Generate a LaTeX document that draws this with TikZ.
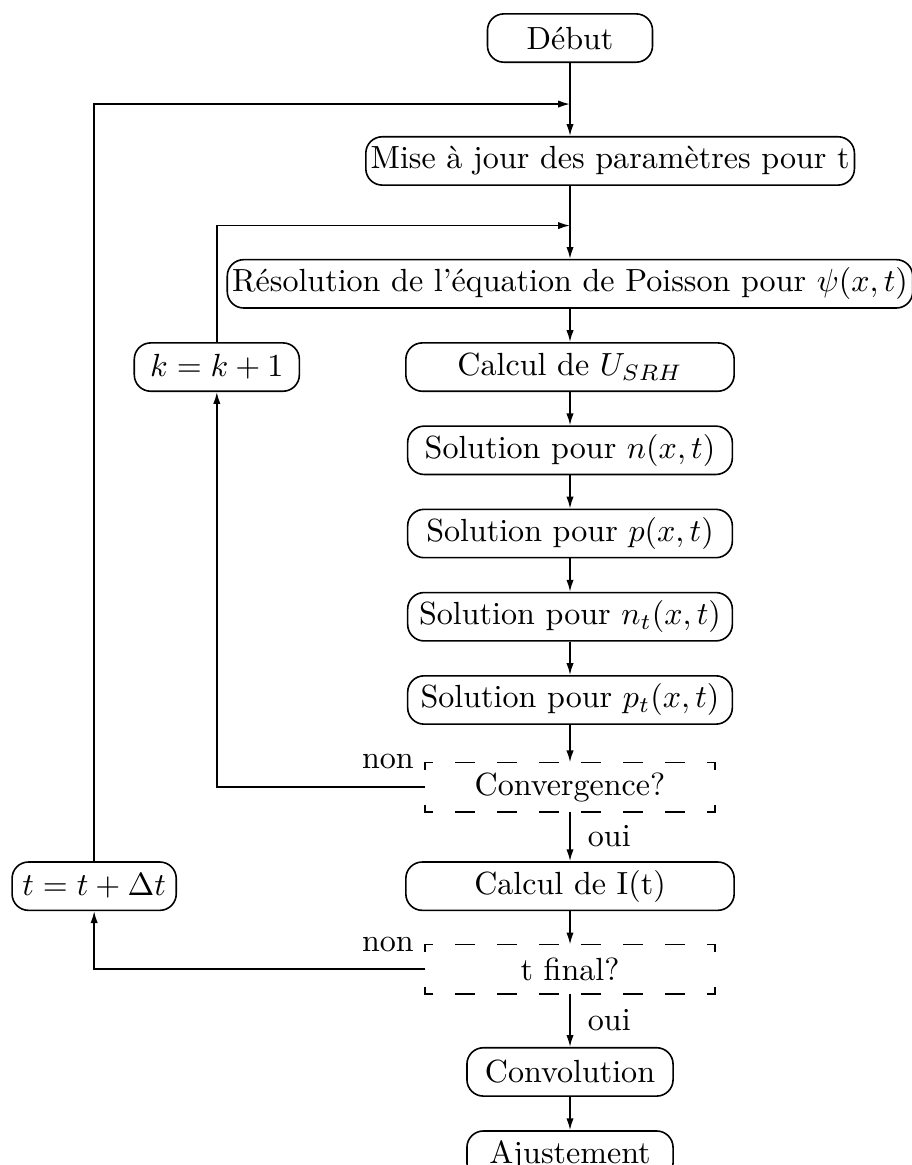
\documentclass[tikz,border=0pt]{standalone}
\usepackage{fontspec}
\usepackage{amsmath}
\usetikzlibrary{arrows.meta,positioning,calc}

\begin{document}
\begin{tikzpicture}[
  node distance=0.365cm,
  etape/.style={rectangle,draw,rounded corners=1.8mm,line width=0.5pt,
                minimum height=0.53cm,inner xsep=1.5pt,inner ysep=1pt,align=center},
  test/.style={rectangle,minimum width=3.16cm,minimum height=0.53cm,inner sep=1pt},
  flow/.style={-{Latex[length=1.3mm,width=0.8mm]},line width=0.5pt},
  cadre/.style={line width=0.5pt},
  tirets/.style={line width=0.5pt,dash pattern=on 0.22cm off 0.24cm}
]
\useasboundingbox (0,0) rectangle (10,-12.774);

%% ---- main column ----
\node[etape,minimum width=1.81cm] (debut) at (6.25,-0.417) {Début};
\node[etape,minimum width=2.96cm,below=0.8cm of debut,xshift=0.44cm] (maj)
    {Mise à jour des paramètres pour t};
\node[etape,minimum width=7.46cm,below=0.8cm of maj,xshift=-0.44cm] (poisson)
    {Résolution de l'équation de Poisson pour $\psi(x,t)$};
\node[etape,minimum width=3.6cm,below=of poisson] (usrh) {Calcul de $U_{SRH}$};
\node[etape,minimum width=3.56cm,below=of usrh] (soln) {Solution pour $n(x,t)$};
\node[etape,minimum width=3.56cm,below=of soln] (solp) {Solution pour $p(x,t)$};
\node[etape,minimum width=3.56cm,below=of solp] (solnt) {Solution pour $n_t(x,t)$};
\node[etape,minimum width=3.56cm,below=of solnt] (solpt) {Solution pour $p_t(x,t)$};
\node[test,below=0.41cm of solpt] (conv) {Convergence?};
\node[etape,minimum width=3.6cm,below=0.54cm of conv] (calcI) {Calcul de I(t)};
\node[test,below=of calcI] (tfin) {t final?};
\node[etape,minimum width=2.26cm,below=0.58cm of tfin] (convol) {Convolution};
\node[etape,minimum width=2.26cm,below=of convol] (ajust) {Ajustement};

%% ---- loop counters ----
\node[etape,minimum width=1.81cm,left=1.15cm of usrh] (kk) {$k=k+1$};
\node[etape,minimum width=1.8cm,left=2.5cm of calcI] (tt) {$t=t+\Delta t$};

\coordinate[below=0.45cm of debut] (j1);
\coordinate[above=of poisson] (j2);

%% ---- dashed test frames ----
\foreach \d in {conv,tfin}{
  \draw[cadre] ([yshift=-0.08cm]\d.north west) -- (\d.north west) -- ([xshift=0.08cm]\d.north west);
  \draw[cadre] ([xshift=-0.08cm]\d.north east) -- (\d.north east) -- ([yshift=-0.08cm]\d.north east);
  \draw[cadre] ([yshift=0.08cm]\d.south west) -- (\d.south west) -- ([xshift=0.08cm]\d.south west);
  \draw[cadre] ([xshift=-0.08cm]\d.south east) -- (\d.south east) -- ([yshift=0.08cm]\d.south east);
  \draw[tirets] ([xshift=0.33cm]\d.north west) -- ([xshift=-0.33cm]\d.north east);
  \draw[tirets] ([xshift=0.33cm]\d.south west) -- ([xshift=-0.33cm]\d.south east);
}

%% ---- arrows ----
\draw[flow] (debut.south) -- (debut.south |- maj.north);
\draw[flow] (maj.south -| poisson.north) -- (poisson.north);
\foreach \a/\b in {poisson/usrh,usrh/soln,soln/solp,solp/solnt,solnt/solpt,
                   solpt/conv,calcI/tfin,convol/ajust}
  \draw[flow] (\a) -- (\b);
\draw[flow] (conv) -- node[right,xshift=2pt]{oui} (calcI);
\draw[flow] (tfin) -- node[right,xshift=2pt]{oui} (convol);
\draw[flow] (conv.west) node[above left,yshift=2pt]{non} -| (kk.south);
\draw[flow] (tfin.west) node[above left,yshift=2pt]{non} -| (tt.south);
\draw[flow] (kk.north) |- (j2);
\draw[flow] (tt.north) |- (j1);

\end{tikzpicture}
\end{document}
